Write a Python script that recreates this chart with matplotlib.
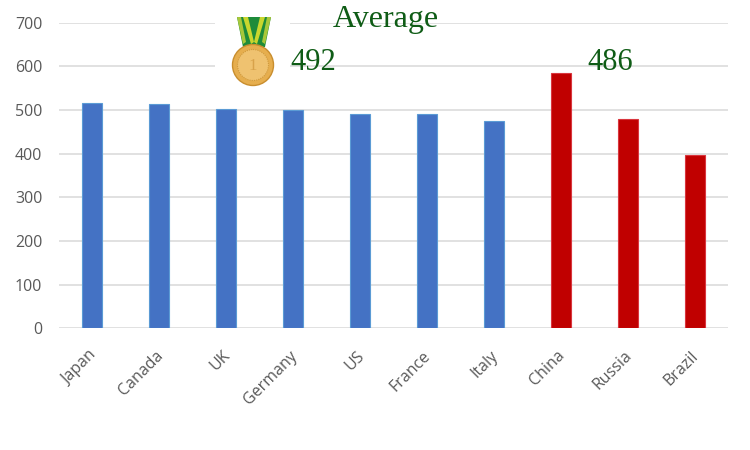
import numpy as np
import matplotlib
matplotlib.use("Agg")
import matplotlib.pyplot as plt
from matplotlib.patches import Polygon, Circle
from matplotlib.transforms import ScaledTranslation

countries = ["Japan", "Canada", "UK", "Germany", "US", "France", "Italy", "China", "Russia", "Brazil"]
scores = [517, 513, 502, 499, 492, 491, 474, 585, 479, 397]
group = ["G", "G", "G", "G", "G", "G", "G", "B", "B", "B"]
avg_left = 492
avg_right = 486

colors = {"G": "#4472C4", "B": "#C00000"}
edges = {"G": "#5B9BD5", "B": "#D9363E"}

plt.rcParams["font.family"] = ["Open Sans", "DejaVu Sans"]

fig = plt.figure(figsize=(7.5, 4.5), dpi=100)
ax = fig.add_axes([59 / 750, 1 - 328.3 / 450, 669 / 750, 305.6 / 450])

x = np.arange(len(countries))
ax.bar(x, scores, width=0.3, color=[colors[g] for g in group],
       edgecolor=[edges[g] for g in group], linewidth=0.8, zorder=3)

ax.set_xlim(-0.5, len(countries) - 0.5)
ax.set_ylim(0, 700)
ax.set_yticks(np.arange(0, 701, 100))
ax.yaxis.grid(True, color="#D9D9D9", linewidth=1.1, zorder=0)
ax.set_axisbelow(True)
for s in ax.spines.values():
    s.set_visible(False)
ax.tick_params(length=0, labelcolor="#595959")
ax.tick_params(axis="y", pad=12, labelsize=11.5)
ax.tick_params(axis="x", pad=14, labelsize=11.5)
ax.set_xticks(x)
ax.set_xticklabels(countries, rotation=45, ha="right", rotation_mode="anchor")
shift = ScaledTranslation(-4 / 100, 0, fig.dpi_scale_trans)
for lab in ax.get_xticklabels():
    lab.set_transform(lab.get_transform() + shift)

# medal picture: small axes in pixel units
m = fig.add_axes([215 / 750, 1 - 95 / 450, 75 / 750, 80 / 450])
m.set_xlim(215, 290)
m.set_ylim(95, 15)
m.axis("off")
m.add_patch(Polygon([[215, 15], [290, 15], [290, 95], [215, 95]], closed=True,
                    facecolor="white", edgecolor="none", zorder=0))
m.add_patch(Polygon([[237, 17], [271, 17], [265, 47], [243, 47]], closed=True,
                    facecolor="#1E8B3A", edgecolor="none", zorder=1))
m.add_patch(Polygon([[243, 17], [248, 17], [254, 42], [251, 44]], closed=True,
                    facecolor="#C9D62E", edgecolor="none", zorder=2))
m.add_patch(Polygon([[260, 17], [265, 17], [257, 44], [254, 42]], closed=True,
                    facecolor="#C9D62E", edgecolor="none", zorder=2))
m.add_patch(Polygon([[237, 17], [241, 17], [246, 42], [243, 44]], closed=True,
                    facecolor="#A8C83A", edgecolor="none", zorder=2))
m.add_patch(Polygon([[267, 17], [271, 17], [265, 44], [262, 42]], closed=True,
                    facecolor="#A8C83A", edgecolor="none", zorder=2))
m.add_patch(Circle((253, 65), 20.5, facecolor="#E6AE4E", edgecolor="#C98E2E", linewidth=1, zorder=3))
m.add_patch(Circle((253, 65), 15.5, facecolor="#EFC270", edgecolor="#CF9A3E", linewidth=0.8,
                   linestyle=(0, (1, 1)), zorder=4))
m.text(253, 66, "1", ha="center", va="center", fontsize=12, color="#D8A24A",
       family="Liberation Serif", zorder=5)

green = "#0F5C16"
fig.text(386 / 750, 1 - 27 / 450, "Average", ha="center", va="baseline", fontsize=23,
         color=green, family="Liberation Serif")
fig.text(290 / 750, 1 - 70 / 450, str(avg_left), ha="left", va="baseline", fontsize=22,
         color=green, family="Liberation Serif")
fig.text(587 / 750, 1 - 70 / 450, str(avg_right), ha="left", va="baseline", fontsize=22,
         color=green, family="Liberation Serif")

fig.savefig("out.png", dpi=100, facecolor="white")
